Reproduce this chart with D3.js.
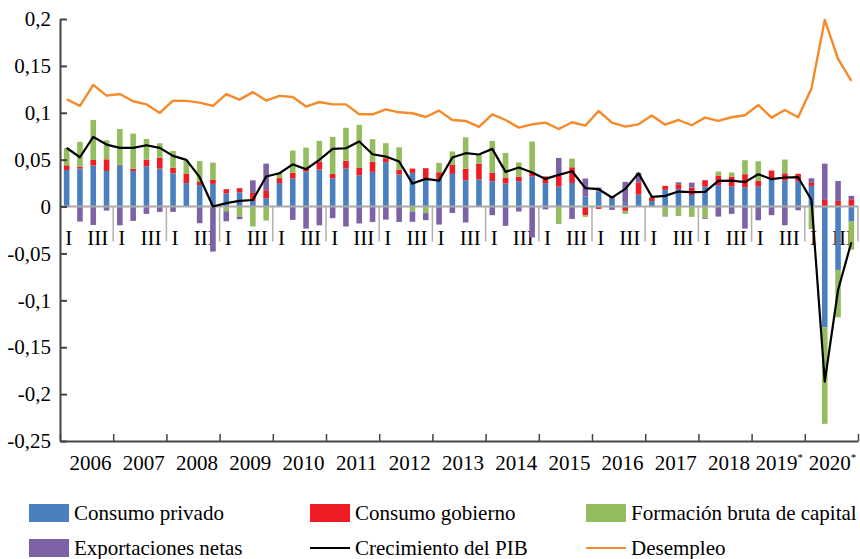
<!DOCTYPE html>
<html><head><meta charset="utf-8">
<script src="https://cdn.jsdelivr.net/npm/d3@7"></script>
<style>
body{margin:0;background:#fff}
svg{display:block}
text{font-family:"Liberation Serif","Times New Roman",serif;fill:#000}
</style>
</head><body><svg id="c" width="860" height="559"></svg>
<script>
const years = ["2006","2007","2008","2009","2010","2011","2012","2013","2014","2015","2016","2017","2018","2019","2020"];
const yearMarks = ["","","","","","","","","","","","","","*","*"];
const quarterNames = ["I","II","III","IV"];
const shownQuarterLabels = ["I","III"];
const yTickValues = [0.2,0.15,0.1,0.05,0,-0.05,-0.1,-0.15,-0.2,-0.25];

const consumoPrivado = [
 0.039,0.0405,0.0437,0.038, 0.044,0.038,0.043,0.0405, 0.0355,0.025,0.023,0.0242, 0.0139,0.0153,0.006,0.0089,
 0.025,0.030,0.0373,0.0395, 0.0302,0.0405,0.0334,0.037, 0.0473,0.0341,0.0359,0.0302, 0.0295,0.0348,0.028,0.029,
 0.027,0.0245,0.027,0.0323, 0.025,0.0213,0.0252,0.0107, 0.016,0.0089,0.0039,0.0128, 0.006,0.0178,0.0188,0.0124,
 0.0213,0.0228,0.0213,0.0206, 0.0213,0.0284,0.0277,0.0267, 0.022,-0.1287,-0.0676,-0.016];
const consumoGobierno = [
 0.005,0.0018,0.006,0.0124, 0.0007,0.0025,0.0071,0.0114, 0.006,0.0103,0.0032,0.0046, 0.0046,0.0043,0.0085,0.0085,
 0.0053,0.006,0.0046,0.0085, 0.0046,0.0085,0.0078,0.0107, 0.0043,0.0053,0.0046,0.0107, 0.0071,0.010,0.0124,0.0167,
 0.0092,0.0064,0.005,0.0043, 0.0071,0.0114,0.0167,-0.0092, -0.0025,0.0018,-0.0046,0.0128, 0.0036,0.0043,0.005,0.0078,
 0.0068,0.0103,0.0107,0.0139, 0.006,0.010,0.0078,0.0082, 0.0032,0.0071,0.006,0.0078];
const formacionBrutaCapital = [
 0.0185,0.0267,0.0427,0.0203, 0.038,0.0373,0.022,0.0156, 0.0178,0.0139,0.0224,0.0181, -0.005,-0.0107,-0.0213,-0.015,
 0.006,0.0238,0.021,0.022, 0.0395,0.035,0.0459,0.0242, 0.016,0.0238,-0.0053,-0.007, 0.010,0.0139,0.0334,0.010,
 0.0338,0.0263,0.015,0.0327, 0,-0.0185,0.0092,-0.0018, 0,0.0007,-0.0032,0, 0,-0.0096,-0.010,-0.011,
 -0.0121,0.0043,0.0043,0.0149, 0.021,0,0.0146,0, -0.024,-0.103,-0.0505,-0.030];
const exportacionesNetas = [
 0,-0.016,-0.0196,-0.0043, -0.020,-0.0153,-0.0078,-0.0057, -0.0057,0,-0.0178,-0.048, -0.0107,-0.0028,0.0135,0.0284,
 0,-0.0142,-0.0235,-0.020, -0.0124,-0.0213,-0.018,-0.0164, -0.0139,-0.0164,-0.011,-0.0075, -0.0192,-0.0068,-0.017,0,
 -0.0092,-0.0206,-0.0053,-0.033, -0.003,0.0192,-0.0132,0.0192, 0.0043,-0.0036,0.0224,0.0103, 0,-0.001,0.0021,0.0053,
 -0.001,-0.0107,-0.0078,-0.0235, -0.0146,-0.0092,-0.020,-0.004, 0.005,0.0387,0.0213,0.0036];
const crecimientoPIB = [
 0.0626,0.0526,0.0743,0.0661, 0.0626,0.0626,0.0654,0.0626, 0.054,0.0498,0.0313,0.0, 0.0036,0.006,0.007,0.032,
 0.0355,0.045,0.0398,0.0498, 0.0615,0.0622,0.0693,0.0558, 0.0533,0.048,0.0245,0.0295, 0.0277,0.0523,0.0569,0.0555,
 0.0615,0.037,0.0416,0.0363, 0.0295,0.0338,0.0377,0.0196, 0.0185,0.0096,0.0188,0.0355, 0.0103,0.0114,0.016,0.0153,
 0.0156,0.0274,0.0277,0.026, 0.0345,0.0292,0.031,0.0313, 0.007,-0.1867,-0.089,-0.038];
const desempleo = [
 0.1144,0.1073,0.1297,0.1183, 0.120,0.1123,0.109,0.0998, 0.113,0.1127,0.1108,0.1073, 0.120,0.114,0.122,0.113,
 0.118,0.1169,0.1066,0.1115, 0.109,0.109,0.0984,0.0984, 0.1037,0.1005,0.0995,0.0955, 0.1023,0.0923,0.0913,0.0849,
 0.0984,0.0923,0.0842,0.0877, 0.0895,0.0827,0.0899,0.0863, 0.1019,0.0895,0.0852,0.0877, 0.097,0.0873,0.0923,0.0867,
 0.0948,0.0913,0.0952,0.0973, 0.1083,0.0948,0.103,0.0952, 0.126,0.199,0.1574,0.134];

const seriesNames = ["Consumo privado","Consumo gobierno","Formación bruta de capital","Exportaciones netas"];
const seriesColors = ["#4a80c0","#ee1c25","#93bd5f","#7d63a6"];
const lineColors = {pib:"#000000", des:"#f58a2a"};

const svg = d3.select("#c");
const X0 = 60, X1 = 858, YT = 19, YB = 441;

const keys = [];
years.forEach(y => quarterNames.forEach(q => keys.push(y + "-" + q)));
const rows = keys.map((k,i) => ({key:k, cp:consumoPrivado[i], cg:consumoGobierno[i], fb:formacionBrutaCapital[i], xn:exportacionesNetas[i]}));

const x = d3.scaleBand().domain(keys).range([X0, X1]).paddingInner(0.58).paddingOuter(0.29);
const xStep = x.step();
const xc = k => x(k) + x.bandwidth()/2;
const xYear = d3.scaleBand().domain(years).range([X0, X1]);
const xYearLin = d3.scaleLinear().domain([0, years.length]).range([X0, X1]);
const y = d3.scaleLinear().domain([-0.25, 0.2]).range([YB, YT]);

// quarter labels (under bars)
const qLab = svg.append("g");
keys.forEach((k,i) => {
  const q = quarterNames[i % 4];
  if (shownQuarterLabels.includes(q)) {
    qLab.append("text").attr("x", xc(k) + (q === "I" ? 2 : 4.5)).attr("y", 245)
      .attr("text-anchor","middle").attr("font-size", 21).text(q);
  }
});

// bars
const stack = d3.stack().keys(["cp","cg","fb","xn"]).offset(d3.stackOffsetDiverging);
const stacked = stack(rows);
svg.append("g").selectAll("g").data(stacked).join("g")
  .attr("fill", (d,i) => seriesColors[i])
  .selectAll("rect").data(d => d).join("rect")
  .attr("x", d => x(d.data.key))
  .attr("width", x.bandwidth())
  .attr("y", d => y(Math.max(d[0], d[1])))
  .attr("height", d => Math.abs(y(d[0]) - y(d[1])));

// zero line and year separators
svg.append("line").attr("x1", X0).attr("x2", X1).attr("y1", y(0)).attr("y2", y(0))
  .attr("stroke", "#aaaaaa").attr("stroke-width", 2);
svg.append("g").selectAll("line").data(d3.range(1, years.length + 1)).join("line")
  .attr("x1", d => xYearLin(d)).attr("x2", d => xYearLin(d))
  .attr("y1", y(0)).attr("y2", y(0) + 35)
  .attr("stroke", "#b0b0b0").attr("stroke-width", 1.5);

// left axis
const fmt = d3.formatLocale({decimal: ",", thousands: ".", grouping: [3], currency: ["", ""], minus: "-"}).format("~g");
const ax = svg.append("g").attr("transform", `translate(${X0},0)`)
  .call(d3.axisLeft(y).tickValues(yTickValues).tickFormat(fmt).tickSizeInner(-7).tickSizeOuter(0).tickPadding(9));
ax.select(".domain").attr("stroke", "#444").attr("stroke-width", 2);
ax.selectAll(".tick line").attr("stroke", "#444").attr("stroke-width", 2);
ax.selectAll("text").attr("font-size", 21).attr("font-family", '"Liberation Serif",serif');

// bottom axis
const bx = svg.append("g").attr("transform", `translate(0,${YB})`)
  .call(d3.axisBottom(xYearLin).tickValues(d3.range(0, years.length + 1)).tickFormat("").tickSizeInner(-7).tickSizeOuter(0));
bx.select(".domain").attr("stroke", "#444").attr("stroke-width", 2);
bx.selectAll(".tick line").attr("stroke", "#444").attr("stroke-width", 1.5);

// year labels
const yl = svg.append("g");
years.forEach((yr, i) => {
  const t = yl.append("text").attr("x", xYear(yr) + xYear.bandwidth()/2 + (yearMarks[i] ? 1 : 4))
    .attr("y", 470).attr("text-anchor", "middle").attr("font-size", 21);
  t.append("tspan").text(yr);
  if (yearMarks[i]) t.append("tspan").attr("font-size", 11).attr("dy", -9).text(yearMarks[i]);
});

// lines
const linePIB = d3.line().x((d,i) => xc(keys[i])).y(d => y(d));
svg.append("path").datum(crecimientoPIB).attr("d", linePIB)
  .attr("fill","none").attr("stroke", lineColors.pib).attr("stroke-width", 2.2).attr("stroke-linejoin","round");
svg.append("path").datum(desempleo).attr("d", linePIB)
  .attr("fill","none").attr("stroke", lineColors.des).attr("stroke-width", 2.4).attr("stroke-linejoin","round");

// legend
const legendItems = [
  {name: seriesNames[0], type: "rect", color: seriesColors[0], col: 0, row: 0},
  {name: seriesNames[1], type: "rect", color: seriesColors[1], col: 1, row: 0},
  {name: seriesNames[2], type: "rect", color: seriesColors[2], col: 2, row: 0},
  {name: seriesNames[3], type: "rect", color: seriesColors[3], col: 0, row: 1},
  {name: "Crecimiento del PIB", type: "line", color: lineColors.pib, col: 1, row: 1},
  {name: "Desempleo", type: "line", color: lineColors.des, col: 2, row: 1}
];
const colX = [29, 310, 586], rowY = [513, 548];
const lg = svg.append("g");
legendItems.forEach(it => {
  const gx = colX[it.col], gy = rowY[it.row];
  if (it.type === "rect") {
    lg.append("rect").attr("x", gx).attr("y", gy - 9).attr("width", 40).attr("height", 18).attr("fill", it.color);
  } else {
    lg.append("line").attr("x1", gx).attr("x2", gx + 40).attr("y1", gy).attr("y2", gy)
      .attr("stroke", it.color).attr("stroke-width", 2);
  }
  lg.append("text").attr("x", gx + 45).attr("y", gy + 7).attr("font-size", 21).text(it.name);
});
</script>
</body></html>
